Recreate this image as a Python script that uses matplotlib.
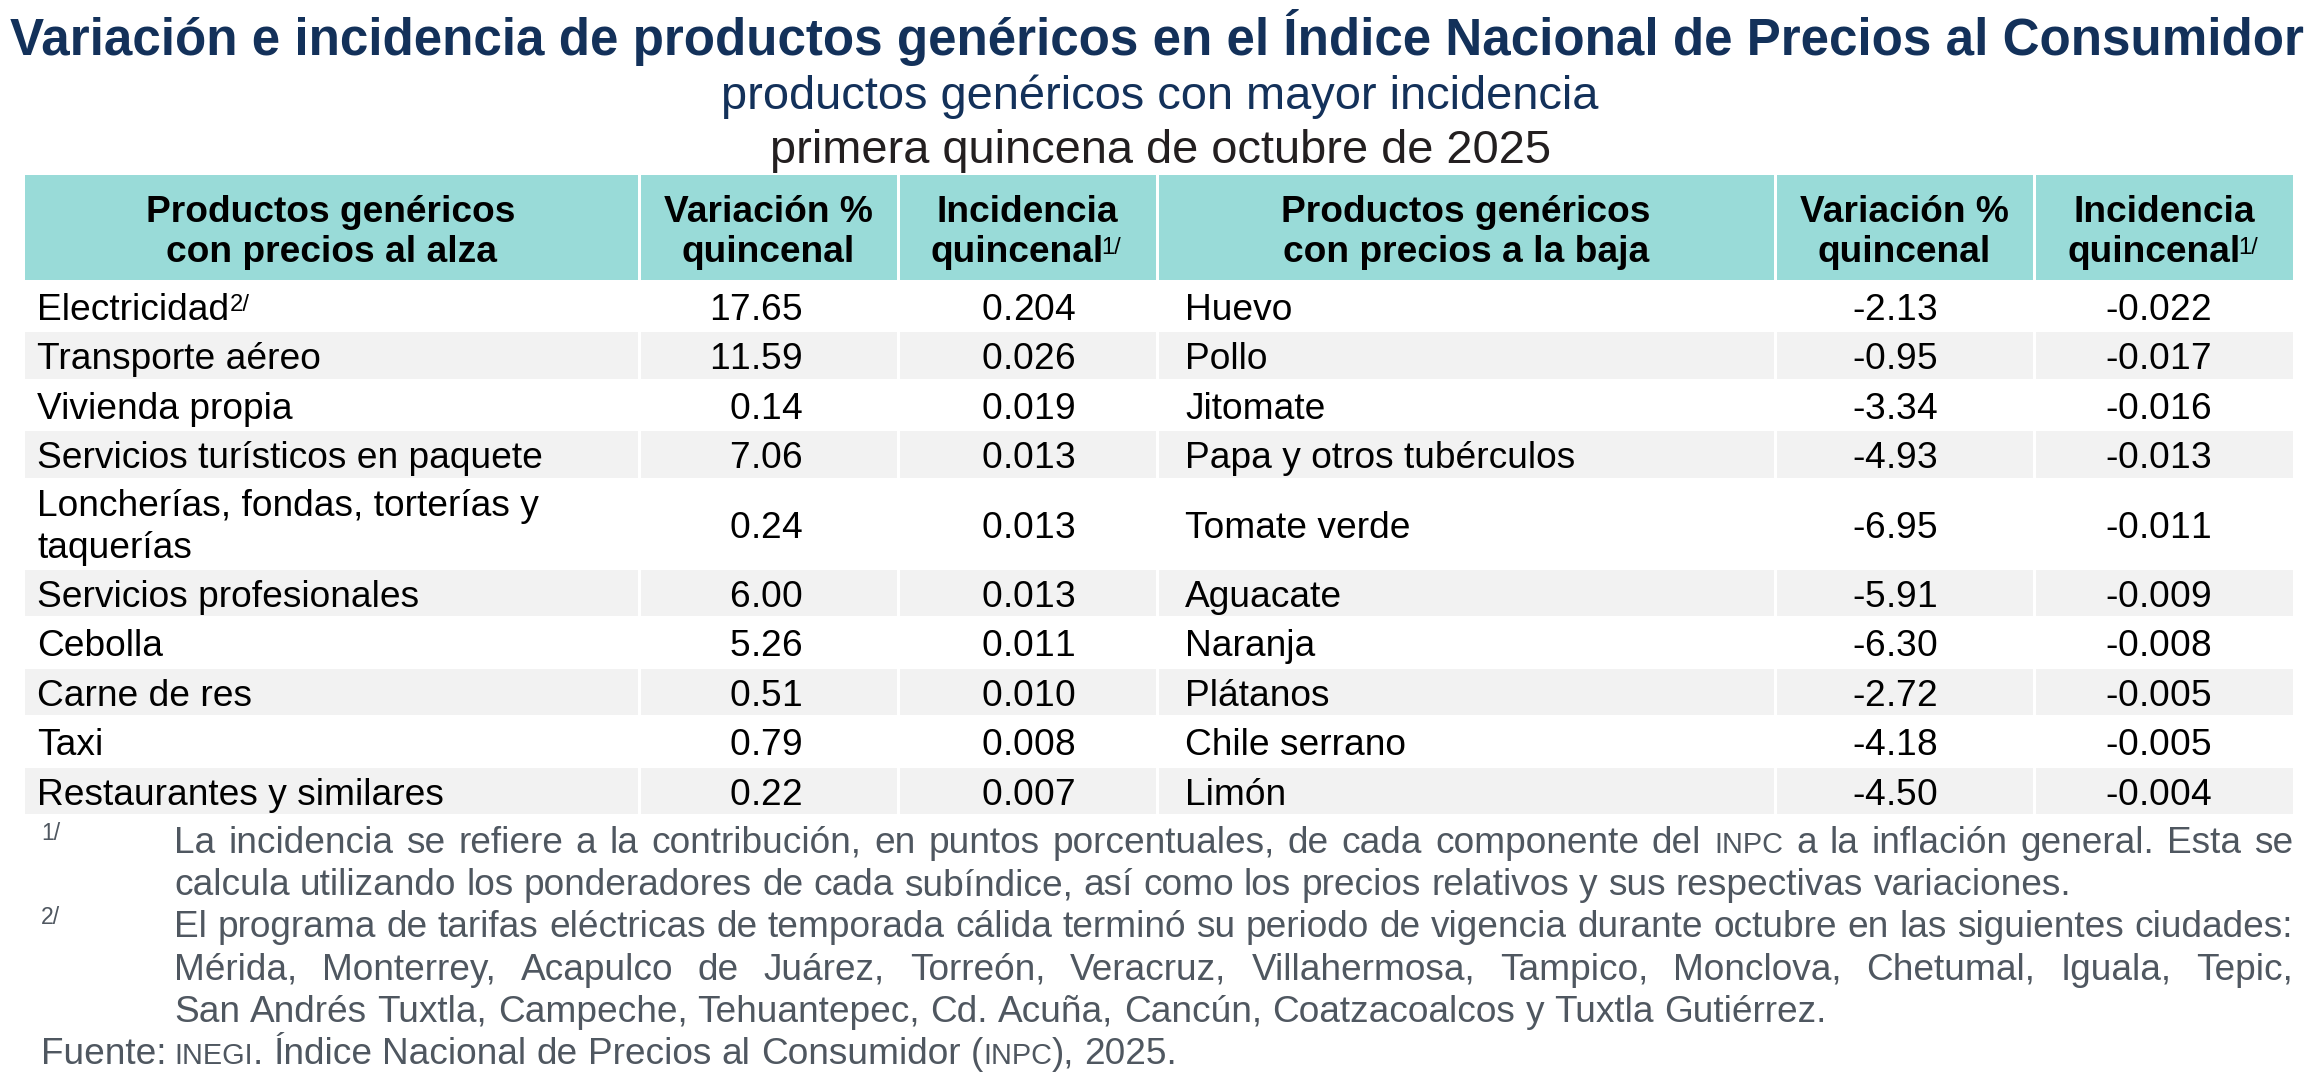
import re
import matplotlib
matplotlib.use("Agg")
import matplotlib.pyplot as plt
from matplotlib.patches import Rectangle

plt.rcParams['font.family'] = ['Liberation Sans', 'DejaVu Sans']

# ---------------- data ----------------
alza_products = ["Electricidad", "Transporte aéreo", "Vivienda propia",
                 "Servicios turísticos en paquete",
                 "Loncherías, fondas, torterías y\ntaquerías",
                 "Servicios profesionales", "Cebolla", "Carne de res", "Taxi",
                 "Restaurantes y similares"]
alza_sup = ["2/", "", "", "", "", "", "", "", "", ""]
alza_variacion = [17.65, 11.59, 0.14, 7.06, 0.24, 6.00, 5.26, 0.51, 0.79, 0.22]
alza_incidencia = [0.204, 0.026, 0.019, 0.013, 0.013, 0.013, 0.011, 0.010, 0.008, 0.007]

baja_products = ["Huevo", "Pollo", "Jitomate", "Papa y otros tubérculos",
                 "Tomate verde", "Aguacate", "Naranja", "Plátanos",
                 "Chile serrano", "Limón"]
baja_variacion = [-2.13, -0.95, -3.34, -4.93, -6.95, -5.91, -6.30, -2.72, -4.18, -4.50]
baja_incidencia = [-0.022, -0.017, -0.016, -0.013, -0.011, -0.009, -0.008, -0.005, -0.005, -0.004]

headers_left = ["Productos genéricos\ncon precios al alza", "Variación %\nquincenal", "Incidencia\nquincenal"]
headers_right = ["Productos genéricos\ncon precios a la baja", "Variación %\nquincenal", "Incidencia\nquincenal"]
header_sups = ["", "", "1/"]

title = "Variación e incidencia de productos genéricos en el Índice Nacional de Precios al Consumidor"
subtitle1 = "productos genéricos con mayor incidencia"
subtitle2 = "primera quincena de octubre de 2025"

# footnote lines: (marker, text, justified); {..} = small caps
footnotes = [
    ("1/", "La incidencia se refiere a la contribución, en puntos porcentuales, de cada componente del {INPC} a la inflación general. Esta se", True),
    ("", "calcula utilizando los ponderadores de cada subíndice, así como los precios relativos y sus respectivas variaciones.", False),
    ("2/", "El programa de tarifas eléctricas de temporada cálida terminó su periodo de vigencia durante octubre en las siguientes ciudades:", True),
    ("", "Mérida, Monterrey, Acapulco de Juárez, Torreón, Veracruz, Villahermosa, Tampico, Monclova, Chetumal, Iguala, Tepic,", True),
    ("", "San Andrés Tuxtla, Campeche, Tehuantepec, Cd. Acuña, Cancún, Coatzacoalcos y Tuxtla Gutiérrez.", False),
]
source_label = "Fuente:"
source_text = "{INEGI}. Índice Nacional de Precios al Consumidor ({INPC}), 2025."

# ---------------- style ----------------
NAVY = "#13315a"
DARK = "#231f20"
TEAL = "#99dbd8"
GREY = "#f2f2f2"
FOOT = "#4f5760"

W, H, DPI = 2314, 1076, 100
fig = plt.figure(figsize=(W / DPI, H / DPI), dpi=DPI)
ax = fig.add_axes([0, 0, 1, 1])
ax.set_xlim(0, W)
ax.set_ylim(H, 0)
ax.axis('off')
renderer = fig.canvas.get_renderer()


def tw(s, size, weight='normal'):
    t = ax.text(0, 0, s, fontsize=size, fontweight=weight)
    w = t.get_window_extent(renderer).width
    t.remove()
    return w


def fit(s, target, weight='normal'):
    return 20 * target / tw(s, 20, weight)


def space_w(size):
    return tw("a a", size) - tw("aa", size)


# ---------------- titles ----------------
title_size = fit(title, 2295, 'bold')
ax.text(1157, 55, title, fontsize=title_size, fontweight='bold', color=NAVY,
        ha='center', va='baseline')
sub_size = fit(subtitle1, 877)
ax.text(1160, 109, subtitle1, fontsize=sub_size, color=NAVY, ha='center', va='baseline')
ax.text(1160, 163, subtitle2, fontsize=sub_size, color=DARK, ha='center', va='baseline')

# ---------------- table layout ----------------
col_edges = [23, 639, 898, 1157, 1775, 2034, 2294]
hdr_top, hdr_bot = 175, 281
SINGLE, DOUBLE = 49.5, 89.0
GAP = 1.5

hdr_size = fit("Productos genéricos", 369, 'bold')
body_size = fit("Servicios turísticos en paquete", 504)

# advance widths of number glyphs (tabular placement)
_d = tw("00", body_size) - tw("0", body_size)
ADV = {c: _d for c in "0123456789"}
ADV["."] = tw("0.0", body_size) - tw("00", body_size)
ADV["-"] = tw("0-0", body_size) - tw("00", body_size)


def num_text(xr, yb, s):
    x = xr
    for ch in reversed(s):
        a = ADV[ch]
        ax.text(x - a / 2, yb, ch, fontsize=body_size, ha='center', va='baseline', color='black')
        x -= a


# header cells
for i in range(6):
    x0, x1 = col_edges[i], col_edges[i + 1]
    ax.add_patch(Rectangle((x0 + GAP, hdr_top), x1 - x0 - 2 * GAP, hdr_bot - hdr_top - GAP,
                           facecolor=TEAL, edgecolor='none'))
    hdr = (headers_left + headers_right)[i]
    sup = (header_sups + header_sups)[i]
    cx = (x0 + x1) / 2
    lines = hdr.split("\n")
    baselines = [222, 262]
    for j, ln in enumerate(lines):
        if j == len(lines) - 1 and sup:
            sup_size = hdr_size * 0.64
            w_main = tw(ln, hdr_size, 'bold')
            w_sup = tw(sup, sup_size)
            start = cx - (w_main + w_sup) / 2
            ax.text(start, baselines[j], ln, fontsize=hdr_size, fontweight='bold',
                    ha='left', va='baseline', color='black')
            ax.text(start + w_main - 3, baselines[j] - 8, sup, fontsize=sup_size,
                    ha='left', va='baseline', color='black')
        else:
            ax.text(cx, baselines[j], ln, fontsize=hdr_size, fontweight='bold',
                    ha='center', va='baseline', color='black')

# body rows
y = hdr_bot
for r in range(len(alza_products)):
    nlines = max(alza_products[r].count("\n"), baja_products[r].count("\n")) + 1
    h = SINGLE if nlines == 1 else DOUBLE
    fill = GREY if r % 2 == 1 else 'white'
    for i in range(6):
        x0, x1 = col_edges[i], col_edges[i + 1]
        ax.add_patch(Rectangle((x0 + GAP, y + GAP), x1 - x0 - 2 * GAP, h - 2 * GAP,
                               facecolor=fill, edgecolor='none'))
    cy = y + h / 2
    base = cy + 14
    # labels
    for label, sup, lx in ((alza_products[r], alza_sup[r], 37),
                           (baja_products[r], "", 1185)):
        lines = label.split("\n")
        n = len(lines)
        for j, ln in enumerate(lines):
            by = base + (j - (n - 1) / 2) * 42
            ax.text(lx, by, ln, fontsize=body_size, ha='left', va='baseline', color='black')
            if sup and j == n - 1:
                ax.text(lx + tw(ln, body_size) + 1, by - 9, sup, fontsize=body_size * 0.64,
                        ha='left', va='baseline', color='black')
    # numbers (tabular, right aligned)
    num_text(col_edges[2] - 96, base, f"{alza_variacion[r]:.2f}")
    num_text(col_edges[3] - 82, base, f"{alza_incidencia[r]:.3f}")
    num_text(col_edges[5] - 97, base, f"{baja_variacion[r]:.2f}")
    num_text(col_edges[6] - 83, base, f"{baja_incidencia[r]:.3f}")
    y += h

# ---------------- footnotes ----------------
foot_size = fit(footnotes[1][1], 1896)
SC = 0.78


def parse_words(line):
    words = []
    for w in line.split(" "):
        runs = []
        for part in re.split(r'(\{[^}]*\})', w):
            if not part:
                continue
            if part.startswith("{"):
                runs.append((part[1:-1], SC))
            else:
                runs.append((part, 1.0))
        words.append(runs)
    return words


def draw_line(x0, yb, line, size, color, right=None):
    words = parse_words(line)
    widths = [sum(tw(t, size * f) for t, f in wd) for wd in words]
    if right is not None and len(words) > 1:
        gap = (right - x0 - sum(widths)) / (len(words) - 1)
    else:
        gap = space_w(size)
    x = x0
    for wd, ww in zip(words, widths):
        xx = x
        for t, f in wd:
            ax.text(xx, yb, t, fontsize=size * f, color=color, ha='left', va='baseline')
            xx += tw(t, size * f)
        x += ww + gap


foot_base0, foot_step = 852.7, 42.3
for k, (marker, text, just) in enumerate(footnotes):
    yb = foot_base0 + k * foot_step
    if marker:
        ax.text(41, yb - 13, marker, fontsize=foot_size * 0.62, color=FOOT,
                ha='left', va='baseline')
    draw_line(174, yb, text, foot_size, FOOT, right=2293 if just else None)

yb = foot_base0 + len(footnotes) * foot_step
ax.text(41, yb, source_label, fontsize=foot_size, color=FOOT, ha='left', va='baseline')
draw_line(174, yb, source_text, foot_size, FOOT)

fig.savefig("out.png", dpi=DPI)
